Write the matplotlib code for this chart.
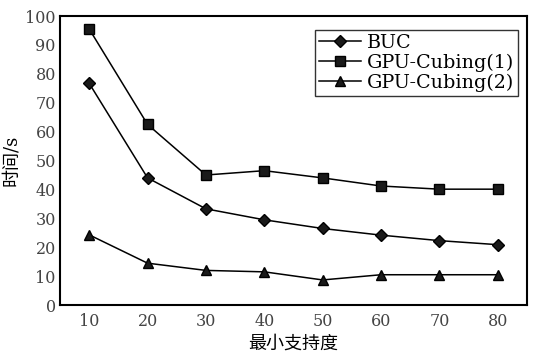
import matplotlib.pyplot as plt

# minimum support vs. running time
support = [10, 20, 30, 40, 50, 60, 70, 80]
buc = [76.7, 44.0, 33.3, 29.5, 26.5, 24.2, 22.3, 20.9]
gpu1 = [95.5, 62.5, 45.0, 46.5, 44.0, 41.2, 40.1, 40.1]
gpu2 = [24.3, 14.5, 12.0, 11.5, 8.7, 10.5, 10.5, 10.5]
labels = ['BUC', 'GPU-Cubing(1)', 'GPU-Cubing(2)']
yticks = list(range(0, 101, 10))

plt.rcParams['font.family'] = ['DejaVu Serif', 'Noto Sans CJK SC']
plt.rcParams['axes.unicode_minus'] = False

fig = plt.figure(figsize=(5.36, 3.56), dpi=100)
ax = fig.add_axes([0.112, 0.143, 0.871, 0.812])

ax.plot(support, buc, '-D', color='black', lw=1.1, ms=6, mfc='#1a1a1a', label=labels[0])
ax.plot(support, gpu1, '-s', color='black', lw=1.1, ms=6.5, mfc='#1a1a1a', label=labels[1])
ax.plot(support, gpu2, '-^', color='black', lw=1.1, ms=7.5, mfc='#1a1a1a', label=labels[2])

ax.set_xlim(5, 85)
ax.set_ylim(0, 100)
ax.set_xticks(support)
ax.set_yticks(yticks)
ax.tick_params(length=0, labelsize=11.5, colors='#444444')
ax.tick_params(axis='x', pad=6)
ax.tick_params(axis='y', pad=3)
for s in ax.spines.values():
    s.set_linewidth(1.5)

ax.set_xlabel('最小支持度', fontsize=13, labelpad=3)
ax.set_ylabel('时间/s', fontsize=13, labelpad=4)

leg = ax.legend(loc='upper right', bbox_to_anchor=(0.98, 0.952), fontsize=13.8,
                frameon=True, fancybox=False, edgecolor='black', handlelength=2.2,
                handletextpad=0.3, labelspacing=0.1, borderpad=0.2, borderaxespad=0)
leg.get_frame().set_linewidth(1.0)

fig.savefig('out.png', dpi=100)
